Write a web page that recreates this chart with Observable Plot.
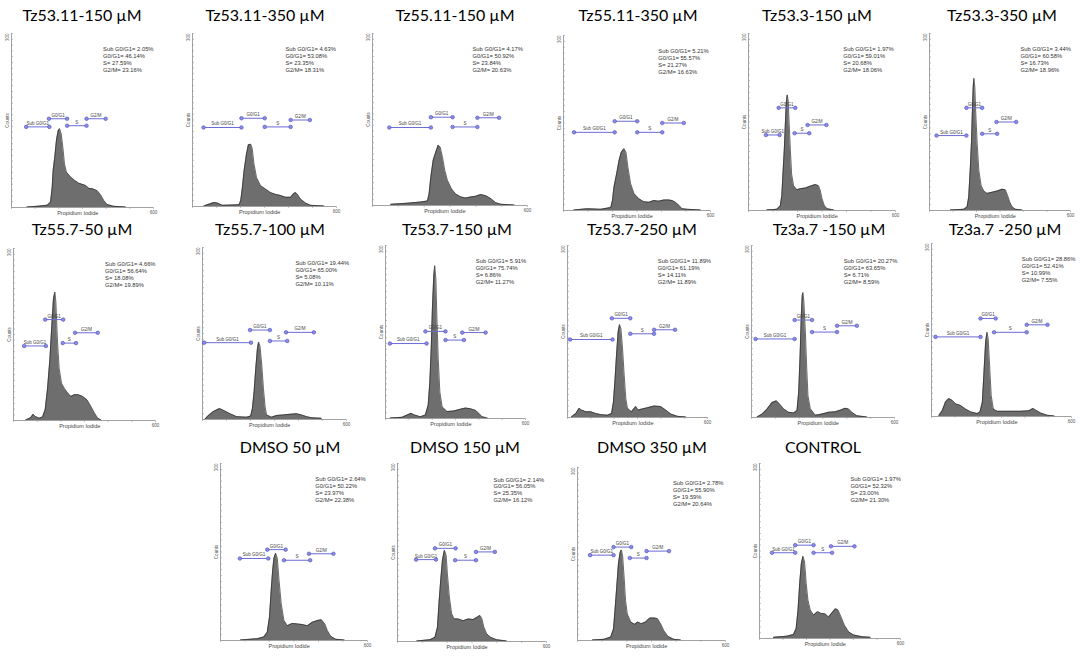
<!DOCTYPE html>
<html><head><meta charset="utf-8">
<script src="https://cdn.jsdelivr.net/npm/d3@7"></script>
<script src="https://cdn.jsdelivr.net/npm/@observablehq/plot@0.6"></script>
<style>
body{margin:0;background:#fff;}
#wrap{position:relative;width:1084px;height:656px;overflow:hidden;background:#fff;}
.title{position:absolute;font-family:Lato,"Open Sans",sans-serif;font-size:16px;line-height:16px;color:#000;white-space:nowrap;transform:translateX(-50%);}
.panel{position:absolute;}
.panel svg{overflow:visible;}
</style></head><body><div id="wrap"></div>
<script>
// ---------- data ----------
const titles = ["Tz53.11-150 µM","Tz53.11-350 µM","Tz55.11-150 µM","Tz55.11-350 µM","Tz53.3-150 µM","Tz53.3-350 µM",
  "Tz55.7-50 µM","Tz55.7-100 µM","Tz53.7-150 µM","Tz53.7-250 µM","Tz3a.7 -150 µM","Tz3a.7 -250 µM",
  "DMSO 50 µM","DMSO 150 µM","DMSO 350 µM","CONTROL"];

const pctSubG0G1 = ["2.05","4.63","4.17","5.21","1.97","3.44","4.66","19.44","5.91","11.89","20.27","28.86","2.64","2.14","2.78","1.97"];
const pctG0G1    = ["46.14","53.08","50.92","55.57","59.01","60.58","56.64","65.00","75.74","61.19","63.65","52.41","50.22","56.05","55.90","52.32"];
const pctS       = ["27.59","23.35","23.84","21.27","20.68","16.73","18.08","5.08","6.86","14.11","6.71","10.99","23.97","25.35","19.59","23.00"];
const pctG2M     = ["23.16","18.31","20.63","16.63","18.06","18.96","19.89","10.11","11.27","11.89","8.59","7.55","22.38","16.12","20.64","21.30"];

const gateNames = ["Sub G0/G1","G0/G1","S","G2/M"];
// [x1, x2, counts] per panel
const gateSub  = [[62,160,139],[46,204,137],[65,226,136],[43,209,134],[71,127,128],[30,157,127],[45,137,130],[7,202,134],[19,176,130],[11,193,136],[17,181,137],[17,210,138],[79,195,139],[75,155,138],[51,146,148],[53,152,147]];
const gateG0G1 = [[158,235,153],[204,301,153],[226,310,154],[209,301,153],[123,191,174],[157,224,174],[134,210,176],[198,281,156],[171,257,151],[190,269,173],[181,254,170],[210,275,170],[191,266,154],[151,234,157],[146,218,162],[152,230,160]];
const gateS    = [[235,317,141],[301,409,138],[310,406,137],[301,403,134],[188,248,131],[224,288,130],[208,264,135],[281,353,137],[257,336,136],[269,371,146],[254,359,149],[268,408,146],[259,366,136],[232,316,137],[212,280,143],[230,309,147]];
const gateG2M  = [[317,398,153],[409,489,150],[406,490,153],[403,491,150],[241,318,145],[285,369,150],[260,356,153],[348,464,152],[329,429,149],[371,461,153],[359,442,160],[408,497,159],[361,461,147],[316,392,151],[280,371,155],[304,404,158]];

// histograms: [propidium iodide channel, counts]
const hTz53_11_150 = [[66,1],[108,2],[151,4],[165,9],[172,35],[176,64],[183,87],[190,116],[197,132],[203,136],[210,127],[217,104],[224,75],[232,61],[249,53],[266,47],[284,42],[298,40],[313,38],[327,33],[345,32],[362,29],[376,22],[390,12],[404,5],[432,2],[482,1]];
const hTz53_11_350 = [[48,1],[76,5],[90,7],[104,6],[125,2],[194,3],[201,10],[208,33],[215,62],[225,91],[233,107],[243,108],[249,100],[256,74],[267,50],[284,36],[305,30],[326,24],[347,21],[367,19],[388,16],[409,16],[423,23],[431,24],[439,20],[450,13],[471,6],[492,2],[547,1]];
const hTz55_11_150 = [[71,2],[135,4],[187,6],[213,8],[219,20],[226,50],[235,79],[245,93],[254,105],[262,102],[271,84],[280,61],[290,44],[306,29],[322,20],[342,15],[361,13],[381,15],[400,16],[419,19],[439,17],[458,12],[477,5],[497,2],[548,1]];
const hTz55_11_350 = [[43,1],[98,3],[152,2],[193,5],[200,17],[206,40],[217,63],[227,86],[236,100],[247,106],[255,100],[263,74],[274,46],[288,29],[308,20],[328,15],[349,14],[369,17],[389,16],[410,18],[430,18],[444,17],[457,14],[471,9],[484,3],[505,2],[559,1]];
const hTz53_3_150  = [[75,1],[116,2],[130,8],[136,25],[140,57],[146,102],[150,142],[154,181],[158,196],[162,187],[166,147],[171,102],[176,62],[184,42],[198,35],[211,37],[232,38],[252,41],[273,44],[286,42],[293,34],[300,20],[310,8],[321,3],[348,1]];
const hTz53_3_350  = [[89,1],[146,2],[160,6],[167,23],[174,74],[179,119],[183,175],[186,209],[189,224],[193,209],[197,164],[203,113],[210,68],[220,42],[231,33],[245,29],[267,31],[288,33],[309,36],[323,35],[333,25],[342,14],[352,6],[366,2],[394,1]];
const hTz55_7_50   = [[52,1],[73,5],[83,11],[92,7],[109,4],[123,6],[134,19],[144,56],[154,108],[162,166],[169,213],[175,224],[179,207],[186,137],[193,91],[203,65],[215,56],[229,48],[243,42],[257,45],[274,45],[292,42],[311,36],[328,24],[342,13],[356,4],[370,1]];
const hTz55_7_100  = [[11,1],[25,7],[46,14],[71,19],[87,16],[115,10],[143,5],[184,4],[201,6],[208,19],[215,48],[222,89],[229,124],[234,135],[240,127],[247,95],[254,54],[261,22],[267,8],[288,4],[309,7],[337,8],[365,9],[392,10],[413,8],[434,5],[455,3],[496,2]];
const hTz53_7_150  = [[21,1],[71,2],[93,6],[110,9],[124,6],[150,3],[171,6],[183,23],[190,63],[196,121],[201,190],[207,248],[211,265],[216,242],[220,179],[226,104],[233,46],[243,20],[264,12],[293,13],[321,16],[343,18],[364,17],[386,14],[400,9],[414,3],[436,1]];
const hTz53_7_250  = [[17,1],[36,7],[50,16],[60,13],[79,10],[100,10],[121,7],[143,5],[171,4],[189,7],[197,27],[204,68],[210,108],[217,149],[223,162],[229,155],[236,120],[243,74],[250,33],[257,16],[274,10],[293,19],[303,13],[321,15],[343,17],[371,20],[400,19],[421,13],[443,6],[471,2],[507,1]];
const hTz3a_7_150  = [[24,1],[45,6],[66,15],[86,26],[105,29],[119,23],[135,15],[156,9],[177,8],[191,12],[198,44],[204,108],[209,178],[213,213],[216,218],[220,201],[226,149],[232,84],[237,38],[247,15],[268,4],[296,6],[324,9],[352,10],[375,13],[393,16],[407,15],[421,9],[442,3],[484,1]];
const hTz3a_7_250  = [[32,2],[46,10],[60,25],[74,31],[89,28],[103,22],[125,19],[146,13],[168,8],[196,5],[208,8],[218,25],[225,77],[232,129],[238,146],[243,135],[249,89],[256,36],[265,13],[282,9],[325,9],[382,9],[418,10],[435,14],[451,10],[468,6],[497,2],[526,1]];
const hDMSO_50     = [[82,1],[150,3],[177,6],[191,14],[200,40],[207,85],[213,119],[218,139],[225,148],[232,139],[239,102],[248,62],[259,34],[273,25],[293,29],[314,28],[334,27],[355,25],[375,31],[396,34],[412,35],[426,28],[436,17],[450,7],[471,2],[505,1]];
const hDMSO_150    = [[78,1],[131,3],[151,7],[161,24],[167,64],[174,103],[181,137],[189,154],[196,145],[201,114],[209,75],[218,47],[228,38],[245,38],[265,35],[285,38],[305,37],[321,41],[332,44],[340,38],[348,24],[359,13],[375,7],[399,3],[439,1]];
const hDMSO_350    = [[61,1],[108,2],[135,6],[146,20],[152,52],[159,92],[166,133],[173,153],[178,157],[183,147],[189,110],[195,69],[202,46],[216,32],[232,28],[245,32],[259,29],[276,32],[294,39],[310,39],[324,38],[337,29],[350,17],[367,7],[391,2],[418,1]];
const hCONTROL     = [[60,2],[117,4],[145,7],[156,17],[164,49],[171,94],[178,128],[185,141],[192,131],[199,94],[206,66],[216,49],[230,40],[247,46],[262,43],[280,42],[294,37],[309,44],[323,51],[334,49],[347,37],[361,23],[380,11],[401,6],[437,3],[472,2]];

const histograms = [hTz53_11_150,hTz53_11_350,hTz55_11_150,hTz55_11_350,hTz53_3_150,hTz53_3_350,
  hTz55_7_50,hTz55_7_100,hTz53_7_150,hTz53_7_250,hTz3a_7_150,hTz3a_7_250,hDMSO_50,hDMSO_150,hDMSO_350,hCONTROL];

const xTicks = [0,100,200,300,400,500,600];
const yTicks = d3.range(0, 301, 10);
const xMaxLabel = "600", yMaxLabel = "300";
const xTitle = "Propidium Iodide", yTitle = "Counts";

// ---------- layout (page pixels): axis-left, axis-top, axis width, axis height, title centre x, title cap centre y ----------
const boxes = [
  [11,33,142,174,82,15],[192,33,144,173,265,15],[372,33,155,172,455,15],[563,35,147,175,638,15],[748,33,147,177,817,15],[929,33,141,177,1002,15],
  [13,248,142,172,82,229],[202,247,144,172,270,229],[385,245,140,173,457,229],[567,245,140,172,642,229],[751,245,143,172,829,229],[931,243,140,173,1005,229],
  [220,463,147,177,290,447],[397,463,149,178,465,447],[577,467,148,173,652,447],[759,463,141,175,823,447]
];

const wrap = document.getElementById("wrap");
const ml = 10, mr = 6, mt = 2, mb = 11;

titles.forEach((title, i) => {
  const [L, T, w, h, tx, ty] = boxes[i];
  const hist = histograms[i].map(([x, y]) => ({x, y}));
  const gates = [gateSub[i], gateG0G1[i], gateS[i], gateG2M[i]].map(([x1, x2, y], k) => ({label: gateNames[k], x1, x2, y}));
  const ends = gates.flatMap(g => [{x: g.x1, y: g.y}, {x: g.x2, y: g.y}]);
  const stats = [`Sub G0/G1= ${pctSubG0G1[i]}%`, `G0/G1= ${pctG0G1[i]}%`, `S= ${pctS[i]}%`, `G2/M= ${pctG2M[i]}%`].join("\n");

  const svg = Plot.plot({
    width: ml + w + mr, height: mt + h + mb,
    marginLeft: ml, marginRight: mr, marginTop: mt, marginBottom: mb,
    x: {domain: [0, 600], axis: null},
    y: {domain: [0, 300], axis: null},
    style: {fontFamily: "'Liberation Sans', Arial, sans-serif", background: "transparent"},
    marks: [
      Plot.areaY(hist, {x: "x", y: "y", fill: "#6e6e6e"}),
      Plot.lineY(hist, {x: "x", y: "y", stroke: "#2b2b2b", strokeWidth: 0.7}),
      Plot.ruleX([0], {stroke: "#8a8a8a", strokeWidth: 0.8}),
      Plot.ruleY([0], {stroke: "#8a8a8a", strokeWidth: 0.8}),
      Plot.axisY({ticks: yTicks, tickSize: -2, tickFormat: () => "", label: null, stroke: "#9a9a9a", strokeWidth: 0.6}),
      Plot.axisX({ticks: xTicks, tickSize: 2, tickFormat: () => "", label: null, stroke: "#9a9a9a", strokeWidth: 0.6}),
      Plot.text([yMaxLabel], {x: 0, y: 300, rotate: -90, textAnchor: "end", dx: -3.5, fontSize: 4.5, fill: "#555"}),
      Plot.text([yTitle], {x: 0, y: 150, rotate: -90, dx: -4, fontSize: 4.5, fill: "#555"}),
      Plot.text([xTitle], {x: 280, y: 0, dy: 5.5, fontSize: 5.5, fill: "#444"}),
      Plot.text([xMaxLabel], {x: 600, y: 0, dy: 5, fontSize: 4.5, fill: "#555"}),
      Plot.ruleY(gates, {y: "y", x1: "x1", x2: "x2", stroke: "#6b6bd6", strokeWidth: 1}),
      Plot.dot(ends, {x: "x", y: "y", r: 1.8, fill: "#8c8ce6", stroke: "#4a4ab8", strokeWidth: 0.6}),
      Plot.text(gates, {x: d => (d.x1 + d.x2) / 2, y: "y", text: "label", dy: -3.5, fontSize: 4.5, fill: "#444"}),
      Plot.text([stats], {x: 387, y: 278, textAnchor: "start", lineAnchor: "top", fontSize: 5.8, lineHeight: 1.2, fill: "#333"})
    ]
  });

  const div = document.createElement("div");
  div.className = "panel";
  div.style.left = (L - ml) + "px";
  div.style.top = (T - mt) + "px";
  div.appendChild(svg);
  wrap.appendChild(div);

  const t = document.createElement("div");
  t.className = "title";
  t.textContent = title;
  t.style.left = tx + "px";
  t.style.top = (ty - 8.4) + "px";
  wrap.appendChild(t);
});
</script></body></html>
